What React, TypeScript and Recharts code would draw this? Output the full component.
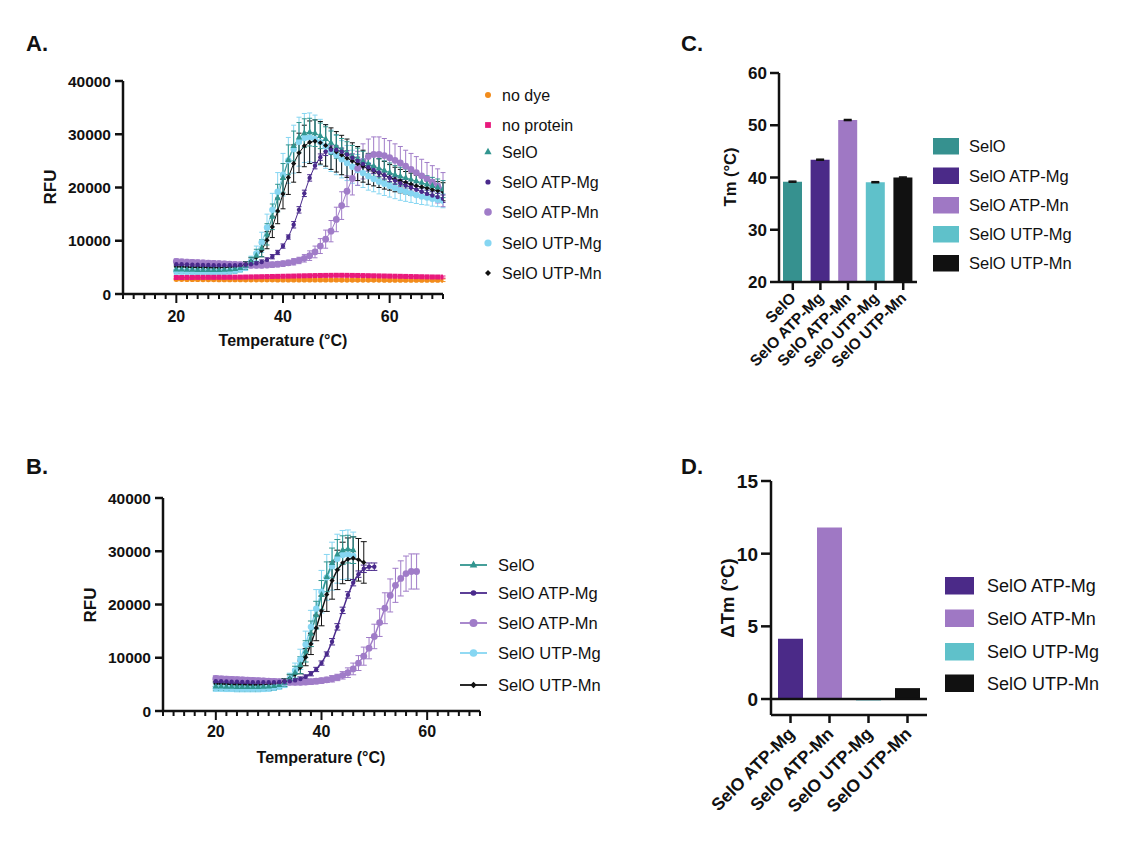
import React from 'react';
import { Bar, BarChart, Cell, ComposedChart, ErrorBar, Line, ReferenceLine, XAxis, YAxis } from 'recharts';

const FONT = '"Liberation Sans", Arial, Helvetica, sans-serif';
const INK = '#111111';

// ---- panel A / B : melt curves (RFU vs temperature, mean and SD) ----
const temps = [
	20, 21, 22, 23, 24, 25, 26, 27, 28, 29, 30, 31, 32, 33, 34, 35, 36, 37, 38, 39, 40, 41, 42, 43, 44, 45, 46, 47, 48, 49,
	50, 51, 52, 53, 54, 55, 56, 57, 58, 59, 60, 61, 62, 63, 64, 65, 66, 67, 68, 69, 70,
];
const tempTicks = [10, 12, 14, 16, 18, 20, 22, 24, 26, 28, 30, 32, 34, 36, 38, 40, 42, 44, 46, 48, 50, 52, 54, 56, 58, 60, 62, 64, 66, 68, 70];
const majorTemps = [20, 40, 60];
const rfuTicks = [0, 10000, 20000, 30000, 40000];

const noDye = [
	2750, 2750, 2740, 2730, 2720, 2710, 2700, 2700, 2690, 2690, 2680, 2680, 2680, 2670, 2670, 2670, 2660, 2660, 2660, 2650,
	2650, 2650, 2650, 2640, 2640, 2640, 2640, 2630, 2630, 2630, 2630, 2620, 2620, 2620, 2620, 2610, 2610, 2610, 2610, 2600,
	2600, 2600, 2600, 2600, 2590, 2590, 2590, 2590, 2580, 2580, 2580,
];
const noDyeErr = [
	250, 250, 250, 250, 250, 250, 250, 250, 250, 250, 250, 250, 250, 250, 250, 250, 250, 250, 250, 250, 250, 250, 250, 250, 250,
	250, 250, 250, 250, 250, 250, 250, 250, 250, 250, 250, 250, 250, 250, 250, 250, 250, 250, 250, 250, 250, 250, 250, 250, 250, 250,
];
const noProtein = [
	3100, 3100, 3110, 3110, 3120, 3120, 3130, 3130, 3140, 3140, 3150, 3160, 3170, 3190, 3210, 3230, 3250, 3270, 3290, 3310,
	3330, 3350, 3370, 3400, 3420, 3440, 3460, 3480, 3490, 3500, 3510, 3510, 3500, 3490, 3480, 3460, 3440, 3420, 3400, 3380,
	3360, 3340, 3320, 3300, 3280, 3260, 3240, 3220, 3200, 3190, 3180,
];
const noProteinErr = [
	200, 200, 200, 200, 200, 200, 200, 200, 200, 200, 200, 200, 200, 200, 200, 200, 200, 200, 200, 200, 200, 200, 200, 200, 200,
	200, 200, 200, 200, 200, 200, 200, 200, 200, 200, 200, 200, 200, 200, 200, 200, 200, 200, 200, 200, 200, 200, 200, 200, 200, 200,
];
const selo = [
	4600, 4600, 4550, 4550, 4500, 4500, 4500, 4500, 4500, 4550, 4600, 4700, 4900, 5300, 6000, 7200, 8600, 11200, 14500, 18000,
	21800, 25200, 27800, 29400, 30200, 30400, 30200, 29700, 29100, 28400, 27700, 27100, 26500, 25900, 25400, 24900, 24400, 24000,
	23600, 23200, 22800, 22400, 22100, 21800, 21500, 21200, 20900, 20600, 20300, 20000, 19700,
];
const seloErr = [
	700, 700, 700, 700, 700, 700, 700, 700, 700, 700, 700, 700, 700, 700, 900, 1200, 1600, 2000, 2400, 2600, 2700, 2800, 2800,
	2800, 2700, 2600, 2500, 2400, 2300, 2200, 2200, 2100, 2100, 2000, 2000, 1900, 1900, 1900, 1800, 1800, 1800, 1700, 1700, 1700,
	1700, 1600, 1600, 1600, 1600, 1600, 1600,
];
const atpMg = [
	5600, 5600, 5550, 5500, 5500, 5450, 5450, 5400, 5400, 5400, 5400, 5400, 5450, 5500, 5600, 5750, 6000, 6400, 7000, 7800,
	9000, 10700, 13000, 15800, 18900, 21800, 24100, 25700, 26700, 27100, 27100, 26700, 26200, 25600, 25000, 24400, 23800, 23300,
	22800, 22300, 21800, 21300, 20800, 20400, 20000, 19600, 19200, 18800, 18500, 18200, 17900,
];
const atpMgErr = [
	300, 300, 300, 300, 300, 300, 300, 300, 300, 300, 300, 300, 300, 300, 300, 300, 400, 400, 400, 400, 400, 400, 600, 600, 600,
	600, 600, 600, 700, 700, 700, 700, 700, 700, 700, 700, 700, 700, 700, 700, 700, 700, 700, 700, 700, 700, 700, 700, 700, 700, 700,
];
const atpMn = [
	6100, 6050, 6000, 5950, 5900, 5850, 5800, 5750, 5700, 5650, 5600, 5550, 5500, 5450, 5400, 5400, 5400, 5450, 5500, 5600,
	5700, 5850, 6050, 6300, 6700, 7200, 7900, 9000, 10300, 11800, 14000, 16600, 19300, 21700, 23600, 24900, 25800, 26200, 26200,
	26000, 25600, 25100, 24600, 24000, 23400, 22800, 22200, 21600, 21000, 20300, 19600,
];
const atpMnErr = [
	500, 500, 500, 500, 500, 500, 500, 500, 500, 500, 500, 500, 500, 500, 500, 500, 500, 500, 500, 500, 500, 500, 600, 600, 700,
	900, 1100, 1400, 1700, 2000, 2300, 2600, 2900, 3100, 3200, 3300, 3300, 3300, 3300, 3200, 3200, 3100, 3100, 3000, 3000, 3000,
	3100, 3100, 3100, 3200, 3200,
];
const utpMg = [
	4300, 4300, 4250, 4250, 4200, 4200, 4200, 4200, 4200, 4250, 4300, 4450, 4700, 5200, 6100, 7600, 9700, 12500, 15800, 19200,
	22400, 25100, 27200, 28600, 29300, 29400, 29100, 28500, 27700, 26900, 26100, 25300, 24600, 23900, 23300, 22700, 22100, 21600,
	21100, 20700, 20300, 19900, 19500, 19200, 18900, 18600, 18300, 18100, 17900, 17700, 17500,
];
const utpMgErr = [
	600, 600, 600, 600, 600, 600, 600, 600, 600, 600, 600, 600, 600, 800, 1000, 1400, 1900, 2500, 3100, 3600, 4000, 4300, 4500,
	4600, 4600, 4600, 4500, 4300, 4100, 3900, 3700, 3500, 3300, 3100, 2900, 2700, 2600, 2400, 2300, 2200, 2100, 2000, 1900, 1800,
	1700, 1600, 1500, 1400, 1400, 1300, 1300,
];
const utpMn = [
	5100, 5100, 5050, 5000, 5000, 5000, 4950, 4950, 4950, 5000, 5050, 5150, 5300, 5600, 6100, 6900, 8200, 10100, 12600, 15600,
	18800, 21900, 24500, 26500, 27800, 28500, 28700, 28400, 27900, 27300, 26700, 26100, 25500, 25000, 24500, 24000, 23500, 23100,
	22700, 22300, 21900, 21500, 21200, 20900, 20600, 20300, 20100, 19900, 19600, 19400, 19200,
];
const utpMnErr = [
	500, 500, 500, 500, 500, 500, 500, 500, 500, 500, 500, 500, 500, 500, 700, 900, 1200, 1600, 2000, 2400, 2800, 3200, 3500,
	3700, 3900, 4000, 4000, 4000, 3900, 3900, 3800, 3700, 3600, 3400, 3200, 3000, 2900, 2800, 2700, 2600, 2400, 2300, 2200, 2100,
	2100, 2000, 1900, 1800, 1800, 1700, 1700,
];

// last temperature kept in the fitted curves of panel B
const fitEnd: Record<string, number> = { selo: 46, atpMg: 50, atpMn: 58, utpMg: 46, utpMn: 48 };

// ---- panel C / D : melting temperatures ----
const tmNames = ['SelO', 'SelO ATP-Mg', 'SelO ATP-Mn', 'SelO UTP-Mg', 'SelO UTP-Mn'];
const tmValues = [39.2, 43.4, 51.0, 39.1, 40.0];
const tmErr = [0.1, 0.1, 0.1, 0.1, 0.1];
const tmTicks = [20, 30, 40, 50, 60];

const dtmNames = ['SelO ATP-Mg', 'SelO ATP-Mn', 'SelO UTP-Mg', 'SelO UTP-Mn'];
const dtmValues = [4.15, 11.8, -0.1, 0.75];
const dtmTicks = [0, 5, 10, 15];

const curveData: Record<string, number[][]> = {
	noDye: [noDye, noDyeErr],
	noProtein: [noProtein, noProteinErr],
	selo: [selo, seloErr],
	atpMg: [atpMg, atpMgErr],
	atpMn: [atpMn, atpMnErr],
	utpMg: [utpMg, utpMgErr],
	utpMn: [utpMn, utpMnErr],
};

const styles: Record<string, { name: string; color: string; shape: string; r: number }> = {
	noDye: { name: 'no dye', color: '#f28c1c', shape: 'circle', r: 2.6 },
	noProtein: { name: 'no protein', color: '#e8197d', shape: 'square', r: 2.5 },
	selo: { name: 'SelO', color: '#31958f', shape: 'triangle', r: 3.2 },
	atpMg: { name: 'SelO ATP-Mg', color: '#4a2a8c', shape: 'circle', r: 2.2 },
	atpMn: { name: 'SelO ATP-Mn', color: '#a07cc8', shape: 'circle', r: 3.4 },
	utpMg: { name: 'SelO UTP-Mg', color: '#86d6f2', shape: 'circle', r: 3.2 },
	utpMn: { name: 'SelO UTP-Mn', color: '#111111', shape: 'diamond', r: 2.6 },
};

const barColors: Record<string, string> = {
	SelO: '#36918f',
	'SelO ATP-Mg': '#4b2a88',
	'SelO ATP-Mn': '#9f78c4',
	'SelO UTP-Mg': '#5fc1ca',
	'SelO UTP-Mn': '#111111',
};

const drawOrderA = ['utpMg', 'atpMn', 'utpMn', 'selo', 'atpMg', 'noDye', 'noProtein'];
const drawOrderB = ['utpMg', 'atpMn', 'utpMn', 'selo', 'atpMg'];
const legendA = ['noDye', 'noProtein', 'selo', 'atpMg', 'atpMn', 'utpMg', 'utpMn'];
const legendB = ['selo', 'atpMg', 'atpMn', 'utpMg', 'utpMn'];

const rowsA = temps.map((t, i) => {
	const row: any = { t };
	Object.keys(curveData).forEach((k) => {
		row[k] = curveData[k][0][i];
		row[k + 'Err'] = curveData[k][1][i];
	});
	return row;
});

const rowsB = temps.map((t, i) => {
	const row: any = { t };
	Object.keys(fitEnd).forEach((k) => {
		if (t <= fitEnd[k]) {
			row[k] = curveData[k][0][i];
			row[k + 'Err'] = curveData[k][1][i];
		}
	});
	return row;
});

const rowsC = tmNames.map((name, i) => ({ name, tm: tmValues[i], err: tmErr[i] }));
const rowsD = dtmNames.map((name, i) => ({ name, dtm: dtmValues[i] }));

const Mark = ({ shape, cx, cy, r, fill }: any) => {
	if (cx == null || cy == null || Number.isNaN(cy)) return <g />;
	if (shape === 'triangle')
		return <polygon points={`${cx},${cy - r * 1.2} ${cx - r},${cy + r * 0.65} ${cx + r},${cy + r * 0.65}`} fill={fill} />;
	if (shape === 'square') return <rect x={cx - r} y={cy - r} width={2 * r} height={2 * r} fill={fill} />;
	if (shape === 'diamond')
		return <polygon points={`${cx},${cy - r} ${cx + r},${cy} ${cx},${cy + r} ${cx - r},${cy}`} fill={fill} />;
	return <circle cx={cx} cy={cy} r={r} fill={fill} />;
};

const TempTick = (props: any) => {
	const { x, y, payload, labelDy } = props;
	const major = majorTemps.includes(payload.value);
	return (
		<g>
			<line x1={x} x2={x} y1={y} y2={y + (major ? 9 : 5)} stroke={INK} strokeWidth={2} />
			{major && (
				<text x={x} y={y + labelDy} textAnchor='middle' fontSize={16} fontWeight={700} fill={INK} fontFamily={FONT}>
					{payload.value}
				</text>
			)}
		</g>
	);
};

const ValueTick = (props: any) => {
	const { x, y, payload, len, gap, fs } = props;
	return (
		<g>
			<line x1={x} x2={x - len} y1={y} y2={y} stroke={INK} strokeWidth={2.5} />
			<text x={x - len - gap} y={y} dy='0.36em' textAnchor='end' fontSize={fs} fontWeight={700} fill={INK} fontFamily={FONT}>
				{payload.value}
			</text>
		</g>
	);
};

const CatTick = (props: any) => {
	const { x, y, payload, len, fs, ax, ay } = props;
	return (
		<g>
			<line x1={x} x2={x} y1={y} y2={y + len} stroke={INK} strokeWidth={2.5} />
			<text
				transform={`translate(${x + ax},${y + ay}) rotate(-45)`}
				textAnchor='end'
				fontSize={fs}
				fontWeight={700}
				fill={INK}
				fontFamily={FONT}
			>
				{payload.value}
			</text>
		</g>
	);
};

const axisLine = { stroke: INK, strokeWidth: 2.5 };

const MeltChart = ({ rows, order, width, height, margin, lineWidth, capWidth, labelDy }: any) => (
	<ComposedChart width={width} height={height} data={rows} margin={margin}>
		<XAxis
			type='number'
			dataKey='t'
			domain={[10, 70]}
			ticks={tempTicks}
			interval={0}
			allowDataOverflow
			height={40}
			tickSize={0}
			tickMargin={0}
			tickLine={false}
			axisLine={axisLine}
			tick={(p: any) => <TempTick {...p} labelDy={labelDy} />}
		/>
		<YAxis
			type='number'
			domain={[0, 40000]}
			ticks={rfuTicks}
			interval={0}
			allowDataOverflow
			width={60}
			tickSize={0}
			tickMargin={0}
			tickLine={false}
			axisLine={axisLine}
			tick={(p: any) => <ValueTick {...p} len={8} gap={4} fs={15.5} />}
		/>
		{order.map((k: string) => {
			const s = styles[k];
			return (
				<Line
					key={k}
					dataKey={k}
					type='linear'
					stroke={s.color}
					strokeWidth={lineWidth}
					isAnimationActive={false}
					activeDot={false}
					dot={(p: any) => <Mark key={`${k}-${p.index}`} shape={s.shape} cx={p.cx} cy={p.cy} r={s.r} fill={s.color} />}
				>
					<ErrorBar dataKey={k + 'Err'} direction='y' width={capWidth} strokeWidth={1} stroke={s.color} />
				</Line>
			);
		})}
	</ComposedChart>
);

const ChartC = () => (
	<BarChart width={240} height={360} data={rowsC} margin={{ top: 33, right: 23, bottom: 28, left: 34 }} barSize={19}>
		<XAxis
			dataKey='name'
			interval={0}
			height={90}
			tickSize={0}
			tickMargin={0}
			tickLine={false}
			axisLine={axisLine}
			tick={(p: any) => <CatTick {...p} len={8} fs={15.5} ax={4} ay={17} />}
		/>
		<YAxis
			type='number'
			domain={[20, 60]}
			ticks={tmTicks}
			interval={0}
			allowDataOverflow
			width={45}
			tickSize={0}
			tickMargin={0}
			tickLine={false}
			axisLine={axisLine}
			tick={(p: any) => <ValueTick {...p} len={9} gap={3} fs={17} />}
		/>
		<Bar dataKey='tm' isAnimationActive={false}>
			{tmNames.map((n) => (
				<Cell key={n} fill={barColors[n]} />
			))}
			<ErrorBar dataKey='err' direction='y' width={4} strokeWidth={1.5} stroke={INK} />
		</Bar>
	</BarChart>
);

const ChartD = () => (
	<BarChart width={250} height={380} data={rowsD} margin={{ top: 21, right: 23, bottom: 15, left: 26 }} barSize={25}>
		<XAxis
			dataKey='name'
			interval={0}
			height={110}
			tickSize={0}
			tickMargin={0}
			tickLine={false}
			axisLine={axisLine}
			tick={(p: any) => <CatTick {...p} len={8} fs={17.5} ax={5} ay={20} />}
		/>
		<YAxis
			type='number'
			domain={[-1.1, 15]}
			ticks={dtmTicks}
			interval={0}
			allowDataOverflow
			width={45}
			tickSize={0}
			tickMargin={0}
			tickLine={false}
			axisLine={axisLine}
			tick={(p: any) => <ValueTick {...p} len={10} gap={3} fs={19} />}
		/>
		<Bar dataKey='dtm' isAnimationActive={false}>
			{dtmNames.map((n) => (
				<Cell key={n} fill={barColors[n]} />
			))}
		</Bar>
		<ReferenceLine y={0} stroke={INK} strokeWidth={2.5} />
	</BarChart>
);

const txt = { fontFamily: FONT, fill: INK } as const;

const Overlay = () => (
	<svg width={1137} height={843} style={{ position: 'absolute', left: 0, top: 0, pointerEvents: 'none' }}>
		<text x={26} y={51} fontSize={22} fontWeight={700} {...txt}>A.</text>
		<text x={26} y={474} fontSize={22} fontWeight={700} {...txt}>B.</text>
		<text x={681} y={51} fontSize={22} fontWeight={700} {...txt}>C.</text>
		<text x={681} y={474} fontSize={22} fontWeight={700} {...txt}>D.</text>

		<text transform='translate(56,187) rotate(-90)' textAnchor='middle' fontSize={17} fontWeight={700} {...txt}>RFU</text>
		<text x={283} y={346} textAnchor='middle' fontSize={16} fontWeight={700} {...txt}>Temperature (°C)</text>
		<text transform='translate(96,605) rotate(-90)' textAnchor='middle' fontSize={17} fontWeight={700} {...txt}>RFU</text>
		<text x={321} y={763} textAnchor='middle' fontSize={16} fontWeight={700} {...txt}>Temperature (°C)</text>
		<text transform='translate(736,177) rotate(-90)' textAnchor='middle' fontSize={16.5} fontWeight={700} {...txt}>Tm (°C)</text>
		<text transform='translate(734,598) rotate(-90)' textAnchor='middle' fontSize={18.5} fontWeight={700} {...txt}>ΔTm (°C)</text>

		{legendA.map((k, i) => {
			const yc = [95, 125, 152, 182, 212, 243, 273][i];
			const s = styles[k];
			return (
				<g key={k}>
					<Mark shape={s.shape} cx={488} cy={yc} r={s.r + 0.4} fill={s.color} />
					<text x={502} y={yc + 5.5} fontSize={16} {...txt}>{s.name}</text>
				</g>
			);
		})}

		{legendB.map((k, i) => {
			const yc = [565, 593, 623, 653, 685][i];
			const s = styles[k];
			return (
				<g key={k}>
					<line x1={460} x2={487} y1={yc} y2={yc} stroke={s.color} strokeWidth={1.8} />
					<Mark shape={s.shape} cx={473.5} cy={yc} r={s.r + 0.6} fill={s.color} />
					<text x={498} y={yc + 6} fontSize={16.5} {...txt}>{s.name}</text>
				</g>
			);
		})}

		{tmNames.map((n, i) => {
			const top = [138, 167.5, 197, 226, 255][i];
			return (
				<g key={n}>
					<rect x={933} y={top} width={26} height={16.5} fill={barColors[n]} />
					<text x={969} y={top + 14} fontSize={16.5} {...txt}>{n}</text>
				</g>
			);
		})}

		{dtmNames.map((n, i) => {
			const top = [577, 609.5, 643, 674.5][i];
			return (
				<g key={n}>
					<rect x={945} y={top} width={29} height={17.5} fill={barColors[n]} />
					<text x={987} y={top + 15} fontSize={18} {...txt}>{n}</text>
				</g>
			);
		})}
	</svg>
);

export default function App() {
	return (
		<div style={{ position: 'absolute', left: 0, top: 0, width: 1137, height: 843, background: '#fff', overflow: 'hidden' }}>
			<div style={{ position: 'absolute', left: 0, top: 0 }}>
				<MeltChart
					rows={rowsA}
					order={drawOrderA}
					width={460}
					height={360}
					margin={{ top: 81, right: 17, bottom: 26, left: 63 }}
					lineWidth={1}
					capWidth={2.5}
					labelDy={28}
				/>
			</div>
			<div style={{ position: 'absolute', left: 0, top: 430 }}>
				<MeltChart
					rows={rowsB}
					order={drawOrderB}
					width={500}
					height={350}
					margin={{ top: 68, right: 20, bottom: 29, left: 103 }}
					lineWidth={1.5}
					capWidth={3}
					labelDy={26}
				/>
			</div>
			<div style={{ position: 'absolute', left: 700, top: 40 }}>
				<ChartC />
			</div>
			<div style={{ position: 'absolute', left: 700, top: 460 }}>
				<ChartD />
			</div>
			<Overlay />
		</div>
	);
}
